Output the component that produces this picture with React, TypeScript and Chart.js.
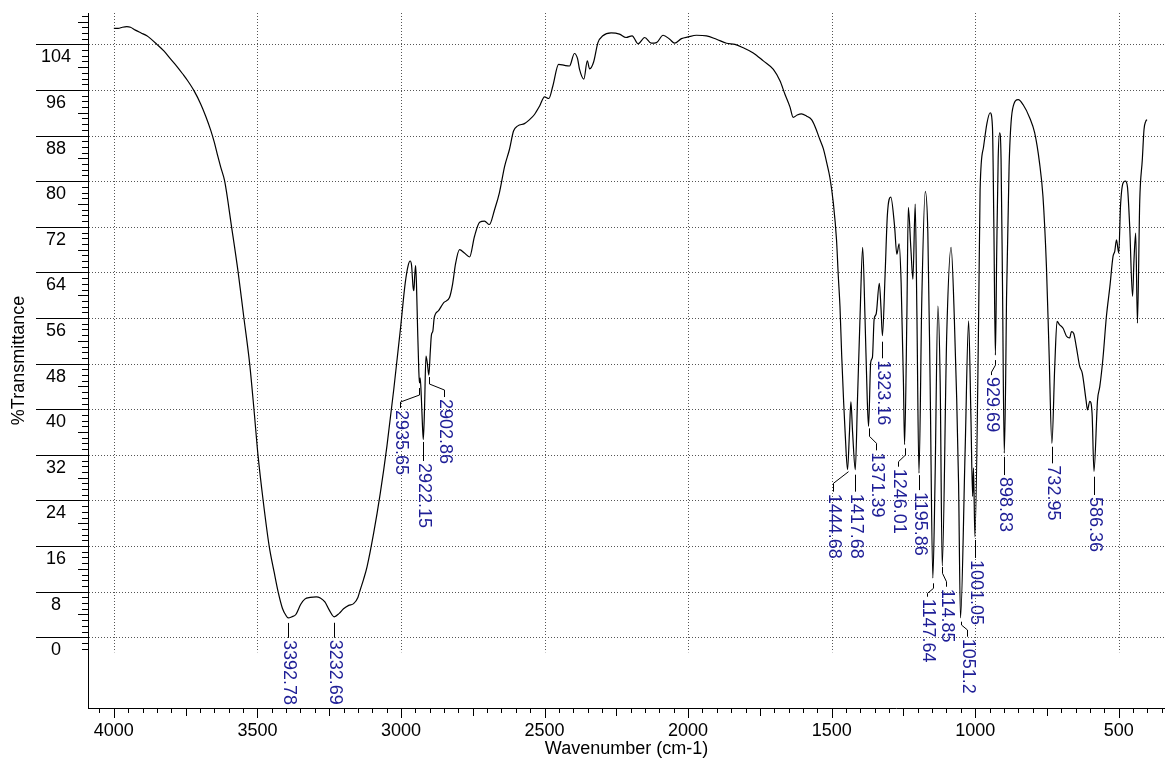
import React, { useEffect, useRef } from "react";
import { Chart, registerables } from "chart.js";

Chart.register(...registerables);

// ---- data ----
const waveNumbers: number[] = [
  4000, 3985, 3970, 3955, 3942, 3925, 3905, 3885, 3872, 3850, 3825, 3802, 3780, 3760, 3744, 3720, 3698, 3680,
  3663, 3650, 3640, 3628, 3614, 3590, 3567, 3547, 3527, 3512, 3498, 3480, 3459, 3442, 3428, 3413, 3400, 3392.78,
  3380, 3366, 3349, 3335, 3316, 3295, 3281, 3265, 3250, 3232.69, 3215, 3200, 3182, 3165, 3150, 3142, 3130, 3118,
  3095, 3072, 3049, 3025, 3002, 2985, 2975, 2968, 2963, 2958, 2955, 2952, 2949, 2946, 2942, 2938, 2935.65, 2933,
  2929, 2925, 2922.15, 2918, 2913, 2908, 2902.86, 2898, 2894, 2889, 2884, 2869, 2851, 2831, 2820, 2810, 2796,
  2779, 2761, 2744, 2726, 2709, 2692, 2674, 2657, 2639, 2622, 2608, 2593, 2570, 2552, 2535, 2517, 2500, 2485,
  2471, 2451, 2430, 2413, 2396, 2385, 2378, 2363, 2351, 2343, 2329, 2314, 2297, 2268, 2239, 2216, 2195, 2174,
  2151, 2128, 2110, 2087, 2064, 2047, 2023, 2000, 1971, 1936, 1901, 1866, 1837, 1808, 1773, 1738, 1703, 1680,
  1663, 1645, 1634, 1620, 1605, 1587, 1570, 1558, 1541, 1529, 1517, 1506, 1494, 1483, 1477, 1471, 1465, 1458,
  1453, 1444.68, 1438, 1433, 1427, 1417.68, 1410, 1401, 1392, 1384, 1376, 1371.39, 1364, 1358, 1352, 1345, 1334,
  1328, 1323.16, 1314, 1306, 1294, 1281, 1273, 1265, 1258, 1250, 1246.01, 1238, 1233, 1224, 1217, 1209, 1203,
  1195.86, 1186, 1174, 1165, 1157, 1147.64, 1140, 1130, 1122, 1114.85, 1099, 1084, 1073, 1058, 1051.2, 1035,
  1023, 1015, 1009, 1006, 1001.05, 988, 983, 971, 959, 948, 940, 935, 929.69, 925, 920, 915, 910, 905, 898.83,
  894, 891, 882, 870, 850, 833, 810, 793, 776, 764, 752, 743, 732.95, 723, 715, 706, 694, 682, 671, 665, 657,
  648, 636, 627, 614, 609, 601, 593, 586.36, 574, 566, 555, 543, 531, 520, 514, 508, 500, 494, 485, 477, 470,
  462, 452, 447, 441, 435, 427, 418, 412, 406, 402,
];

const transmittance: number[] = [
  106.8, 106.8, 107.0, 107.1, 107.0, 106.5, 106.0, 105.5, 105.0, 104.0, 102.8, 101.4, 100.1, 98.8, 97.7, 95.8, 93.6, 91.4,
  89.0, 86.8, 84.8, 82.5, 80.0, 72.0, 64.0, 56.0, 48.0, 40.0, 32.0, 24.0, 16.0, 11.5, 8.0, 5.1, 3.8, 3.4,
  3.6, 4.0, 5.8, 6.7, 7.0, 7.1, 6.9, 6.2, 4.8, 3.6, 4.2, 5.0, 5.6, 5.9, 7.0, 8.3, 10.2, 12.4,
  18.3, 25.3, 33.5, 43.5, 54.0, 62.2, 65.2, 66.0, 65.2, 61.5, 60.8, 63.5, 65.2, 62.0, 54.0, 47.0, 44.6, 45.5,
  42.0, 37.0, 34.7, 40.0, 49.3, 48.0, 46.0, 50.0, 53.0, 53.7, 56.1, 57.3, 58.7, 59.6, 62.0, 65.5, 68.0,
  67.4, 66.7, 70.3, 72.8, 73.0, 72.4, 75.0, 78.0, 82.6, 85.6, 88.8, 89.7, 90.1, 90.8, 91.7, 93.2, 94.8, 94.5,
  96.7, 100.5, 100.3, 100.2, 102.4, 101.5, 99.6, 97.9, 101.1, 99.7, 100.9, 104.3, 105.5, 106.0, 105.8, 105.2, 105.5, 104.1,
  105.2, 104.2, 104.3, 105.6, 104.9, 104.2, 105.0, 105.3, 105.6, 105.5, 104.9, 104.2, 104.0, 103.4, 102.5, 101.1, 99.6, 97.6,
  95.3, 93.0, 91.2, 91.6, 91.8, 91.4, 90.8, 89.6, 87.3, 85.7, 83.2, 80.6, 76.1, 69.7, 63.5, 58.0, 49.4, 41.0,
  35.9, 29.4, 35.9, 41.3, 35.9, 29.4, 41.7, 56.4, 68.4, 56.4, 41.7, 37.0, 48.2, 49.1, 55.8, 56.7, 62.1,
  57.6, 52.9, 63.4, 74.0, 77.2, 72.2, 67.2, 69.0, 62.2, 44.7, 33.8, 56.4, 75.4, 68.1, 62.8, 76.0, 56.4,
  28.8, 59.3, 78.2, 71.0, 44.7, 10.4, 27.1, 58.1, 44.7, 12.5, 53.5, 68.4, 56.4, 27.1, 3.4, 33.0,
  55.5, 38.8, 24.7, 29.7, 17.6, 56.4, 78.5, 86.0, 90.2, 92.0, 89.6, 72.0, 49.5, 68.0, 84.0, 88.5, 84.0, 62.0, 32.3,
  45.0, 59.2, 82.6, 92.6, 94.3, 93.4, 91.1, 88.5, 83.2, 77.3, 65.1, 50.4, 34.0, 47.5, 55.4, 54.8, 54.2, 52.8, 52.5, 53.6, 53.3,
  51.0, 47.5, 46.3, 41.6, 39.9, 41.4, 39.3, 29.1, 41.6, 44.0, 49.0, 56.3, 61.5, 66.8, 67.7, 69.7, 67.4, 75.6, 79.7, 80.0, 79.1,
  72.1, 59.8, 66.2, 70.9, 55.1, 76.5, 83.8, 89.1, 90.5, 90.8,
];

const peakWavenumbers: number[] = [
  3392.78, 3232.69, 2935.65, 2922.15, 2902.86, 1444.68, 1417.68, 1371.39, 1323.16, 1246.01,
  1195.86, 1147.64, 1114.85, 1051.2, 1001.05, 929.69, 898.83, 732.95, 586.36,
];
const peakValues: number[] = [
  3.4, 3.6, 44.6, 34.7, 46.0, 29.4, 29.4, 37.0, 52.9, 33.8,
  28.8, 10.4, 12.5, 3.4, 17.6, 49.5, 32.3, 34.0, 29.1,
];
const peakLabels: string[] = [
  "3392.78", "3232.69", "2935.65", "2922.15", "2902.86", "1444.68", "1417.68", "1371.39", "1323.16", "1246.01",
  "1195.86", "1147.64", "114.85", "1051.2", "1001.05", "929.69", "898.83", "732.95", "586.36",
];

const xTicks: number[] = [4000, 3500, 3000, 2500, 2000, 1500, 1000, 500];
const yTicks: number[] = [0, 8, 16, 24, 32, 40, 48, 56, 64, 72, 80, 88, 96, 104];

// ---- layout of the peak-label leaders (pixels): [gap, vertical, diagonal, vertical, dx] ----
const leaderLayout: number[][] = [
  [5, 15, 0, 0, 0],
  [6, 15, 0, 0, 0],
  [5, 7, 7, 6, -19],
  [2.5, 19, 0, 0, 0],
  [2, 7, 6, 7, 15],
  [2, 0, 11.6, 8.4, -15],
  [5, 17, 0, 0, 0],
  [2, 8, 7, 7, 7],
  [6, 16.6, 0, 0, 0],
  [3.7, 6.7, 6.7, 5, -6.4],
  [2, 15, 0, 0, 0],
  [5.3, 5, 5, 3.4, -6.2],
  [1, 6.3, 8.4, 5, 3.7],
  [3.8, 3.3, 5, 6.7, 6.1],
  [3, 18, 0, 0, 0],
  [5, 5, 7, 3, -4],
  [3.6, 18.3, 0, 0, 0],
  [3.3, 16.6, 0, 0, 0],
  [5.3, 18.3, 0, 0, 0],
];

const FONT = "'Liberation Sans', Arial, Helvetica, sans-serif";
const LABEL_BLUE = "#1e1e96";

const decorPlugin = {
  id: "irDecor",
  beforeDatasetsDraw(chart: any) {
    const { ctx, chartArea, scales } = chart;
    const xs = scales.x;
    const ys = scales.y;
    ctx.save();
    ctx.strokeStyle = "#555";
    ctx.lineWidth = 1;
    ctx.setLineDash([1, 2]);
    // horizontal dotted grid
    yTicks.forEach((v) => {
      const y = Math.round(ys.getPixelForValue(v)) + 0.5;
      ctx.beginPath();
      ctx.moveTo(chartArea.left + 1, y);
      ctx.lineTo(chartArea.right, y);
      ctx.stroke();
    });
    // vertical dotted grid (stops a little under the zero line)
    const yBottom = ys.getPixelForValue(0) + 15;
    xTicks.forEach((v) => {
      const x = Math.round(xs.getPixelForValue(v)) + 0.5;
      ctx.beginPath();
      ctx.moveTo(x, chartArea.top);
      ctx.lineTo(x, yBottom);
      ctx.stroke();
    });
    ctx.restore();
  },
  afterDraw(chart: any) {
    const { ctx, chartArea, scales } = chart;
    const xs = scales.x;
    const ys = scales.y;
    ctx.save();
    ctx.strokeStyle = "#000";
    ctx.lineWidth = 1;
    ctx.setLineDash([]);
    // y major ticks (long, above the labels)
    yTicks.forEach((v) => {
      const y = Math.round(ys.getPixelForValue(v)) + 0.5;
      ctx.beginPath();
      ctx.moveTo(36, y);
      ctx.lineTo(chartArea.left, y);
      ctx.stroke();
    });
    // y minor ticks
    for (let v = -2; v <= 109; v++) {
      if (v % 8 === 0 && v >= 0 && v <= 104) continue;
      const len = v % 4 === 0 ? 10 : 6;
      const y = Math.round(ys.getPixelForValue(v)) + 0.5;
      ctx.beginPath();
      ctx.moveTo(chartArea.left - len, y);
      ctx.lineTo(chartArea.left, y);
      ctx.stroke();
    }
    // x ticks
    for (let w = 350; w <= 4050; w += 50) {
      const len = w % 500 === 0 ? 10 : w % 250 === 0 ? 8 : 5;
      const x = Math.round(xs.getPixelForValue(w)) + 0.5;
      ctx.beginPath();
      ctx.moveTo(x, chartArea.bottom);
      ctx.lineTo(x, chartArea.bottom + len);
      ctx.stroke();
    }
    // peak labels with leaders
    ctx.font = `18px ${FONT}`;
    ctx.fillStyle = LABEL_BLUE;
    ctx.textAlign = "left";
    ctx.textBaseline = "middle";
    peakWavenumbers.forEach((w, i) => {
      const [gap, a, b, c, dx] = leaderLayout[i];
      const x0 = Math.round(xs.getPixelForValue(w)) + 0.5;
      const x1 = Math.round(xs.getPixelForValue(w) + dx) + 0.5;
      let y = ys.getPixelForValue(peakValues[i]) + gap;
      ctx.strokeStyle = "#000";
      ctx.beginPath();
      ctx.moveTo(x0, y);
      y += a;
      ctx.lineTo(x0, y);
      if (b) {
        y += b;
        ctx.lineTo(x1, y);
      }
      if (c) {
        y += c;
        ctx.lineTo(x1, y);
      }
      ctx.stroke();
      ctx.save();
      ctx.translate(b || c ? x1 : x0, y + 2);
      ctx.rotate(Math.PI / 2);
      ctx.fillText(peakLabels[i], 0, 0);
      ctx.restore();
    });
    ctx.restore();
  },
};

export default function App() {
  const canvasRef = useRef<HTMLCanvasElement | null>(null);

  useEffect(() => {
    const canvas = canvasRef.current;
    if (!canvas) return;
    const chart = new Chart(canvas, {
      type: "line",
      data: {
        datasets: [
          {
            data: waveNumbers.map((w, i) => ({ x: w, y: transmittance[i] })),
            borderColor: "#000",
            borderWidth: 1.2,
            pointRadius: 0,
            fill: false,
            cubicInterpolationMode: "monotone",
          },
        ],
      },
      options: {
        animation: false,
        responsive: false,
        devicePixelRatio: 1,
        layout: { padding: { top: 13, right: 0, bottom: 0, left: 0 } },
        plugins: { legend: { display: false }, tooltip: { enabled: false } },
        scales: {
          x: {
            type: "linear",
            reverse: true,
            min: 339,
            max: 4090,
            position: "bottom",
            afterBuildTicks: (s: any) => {
              s.ticks = xTicks.map((v) => ({ value: v }));
            },
            afterFit: (s: any) => {
              s.height = 52;
              s.paddingLeft = 0;
              s.paddingRight = 0;
            },
            grid: { display: false, drawTicks: false },
            border: { display: true, color: "#000", width: 1 },
            ticks: {
              font: { family: FONT, size: 18 },
              color: "#000",
              padding: 12,
              maxRotation: 0,
              autoSkip: false,
              callback: (v: any) => String(v),
            },
            title: {
              display: true,
              text: "Wavenumber (cm-1)",
              font: { family: FONT, size: 18 },
              color: "#000",
              padding: { top: 0, bottom: 0 },
            },
          },
          y: {
            type: "linear",
            min: -12.4,
            max: 109.5,
            afterBuildTicks: (s: any) => {
              s.ticks = yTicks.map((v) => ({ value: v }));
            },
            afterFit: (s: any) => {
              s.width = 88;
              s.paddingTop = 0;
              s.paddingBottom = 0;
            },
            grid: { display: false, drawTicks: false },
            border: { display: true, color: "#000", width: 1 },
            ticks: {
              font: { family: FONT, size: 18 },
              color: "#000",
              padding: 17,
              crossAlign: "center",
              labelOffset: 13,
              autoSkip: false,
              callback: (v: any) => String(v),
            },
            title: {
              display: true,
              text: "%Transmittance",
              font: { family: FONT, size: 18 },
              color: "#000",
              padding: { top: 8, bottom: 0 },
            },
          },
        },
      } as any,
      plugins: [decorPlugin],
    });
    return () => chart.destroy();
  }, []);

  return (
    <div style={{ position: "fixed", left: 0, top: 0, width: 1165, height: 760, background: "#fff" }}>
      <canvas ref={canvasRef} width={1165} height={760} style={{ display: "block" }} />
    </div>
  );
}
